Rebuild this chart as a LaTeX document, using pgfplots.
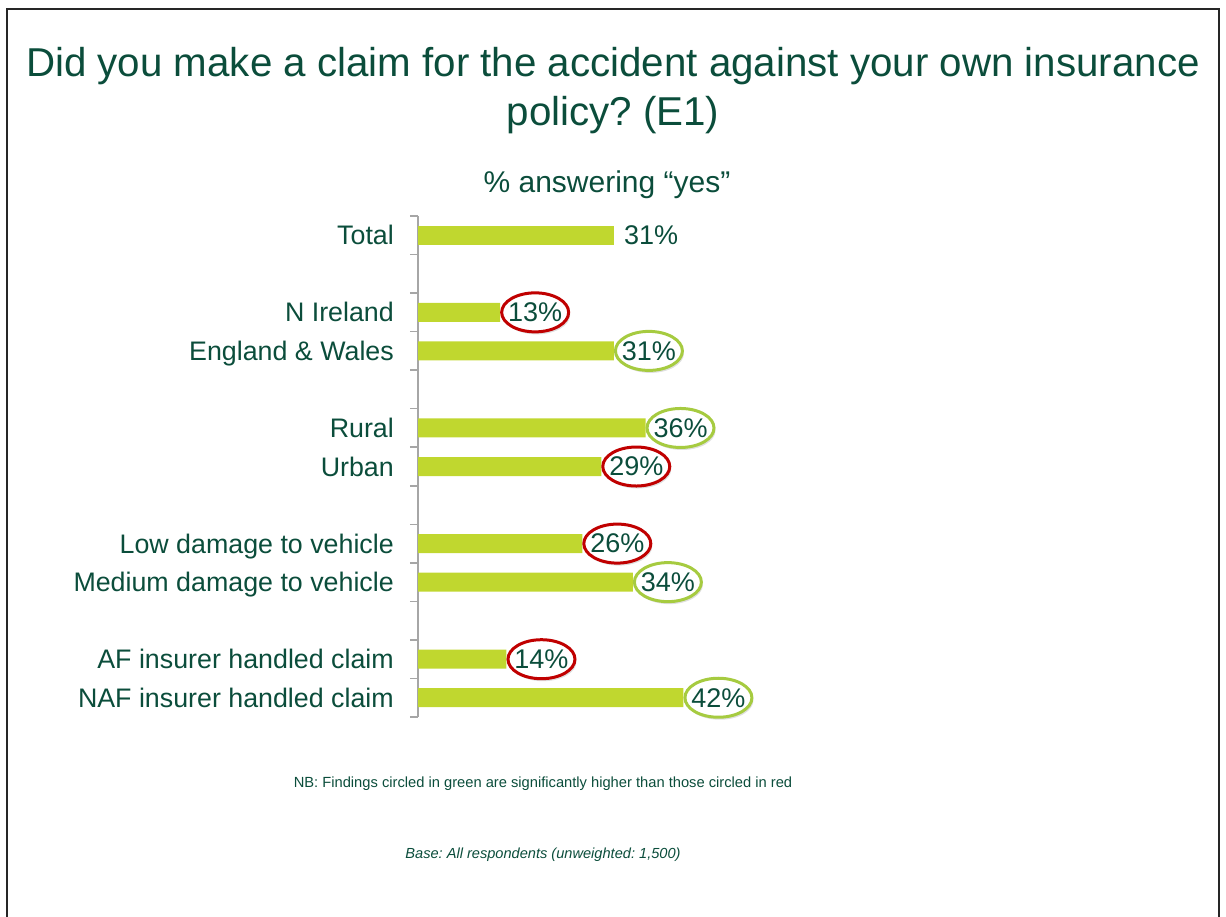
\documentclass[border=0pt]{standalone}
\usepackage{fontspec}
\setmainfont{Liberation Sans}
\usepackage{pgfplots}
\pgfplotsset{compat=1.18}
\usetikzlibrary{shapes.geometric,shadows}
\definecolor{txtgreen}{HTML}{0B4D3B}
\definecolor{barcol}{HTML}{C0D72F}
\definecolor{redc}{HTML}{C00000}
\definecolor{greenc}{HTML}{A6CB40}
\definecolor{axgray}{HTML}{A6A6A6}
\frenchspacing
\begin{document}
\begin{tikzpicture}
\useasboundingbox (0,0) rectangle (1226pt,-916pt);
\draw[line width=2pt, black!85] (7pt,-920pt) -- (7pt,-9pt) -- (1219pt,-9pt) -- (1219pt,-920pt);
\node[anchor=base, text=txtgreen, font=\fontsize{40.3}{45}\selectfont, inner sep=0pt] at (613pt,-76pt) {Did you make a claim for the accident against your own insurance};
\node[anchor=base, text=txtgreen, font=\fontsize{40.3}{45}\selectfont, inner sep=0pt] at (613pt,-125pt) {policy? (E1)};
\node[anchor=base, text=txtgreen, font=\fontsize{30}{34}\selectfont, inner sep=0pt] at (607pt,-192pt) {\% answering “yes”};
\node[anchor=base, text=txtgreen, font=\fontsize{14.7}{18}\selectfont, inner sep=0pt] at (543pt,-787pt) {NB: Findings circled in green are significantly higher than those circled in red};
\node[anchor=base, text=txtgreen, font=\fontsize{14.6}{18}\selectfont\itshape, inner sep=0pt] at (543pt,-858pt) {Base: All respondents (unweighted: 1,500)};
\begin{axis}[
  at={(418pt,-216pt)}, anchor=north west,
  scale only axis, width=316pt, height=501pt,
  xmin=0, xmax=50, ymin=-0.5, ymax=12.5, y dir=reverse,
  clip=false,
  axis x line=none, axis y line*=left,
  y axis line style={draw=axgray, line width=1.5pt},
  ytick={0,2,3,5,6,8,9,11,12},
  yticklabels={Total,N Ireland,England \& Wales,Rural,Urban,Low damage to vehicle,Medium damage to vehicle,AF insurer handled claim,NAF insurer handled claim},
  minor ytick={-0.5,0.5,...,12.5},
  major tick length=0pt, minor tick length=8pt,
  tick align=outside, ytick pos=left,
  every tick/.style={draw=axgray, line width=1.5pt},
  minor tick style={draw=axgray, line width=1.5pt},
  yticklabel style={font=\fontsize{26.8}{30}\selectfont, text=txtgreen, anchor=base east, inner sep=0pt, xshift=-24pt, yshift=-9.6pt},
  /pgf/number format/assume math mode=true,
  xbar, bar width=19pt,
  nodes near coords style={font=\fontsize{27}{30}\selectfont, text=txtgreen},
]
\addplot[fill=barcol, draw=none, bar shift=0pt,
  nodes near coords={\pgfmathprintnumber{\pgfplotspointmeta}\%},
  every node near coord/.append style={anchor=west, inner sep=0pt, xshift=10pt}]
  coordinates {(31,0)};
\addplot[fill=barcol, draw=none, bar shift=0pt,
  nodes near coords={\makebox[36pt][c]{\pgfmathprintnumber{\pgfplotspointmeta}\%}},
  every node near coord/.append style={anchor=west, shape=ellipse, draw=redc, fill=white, line width=3pt, minimum width=67pt, minimum height=39pt, inner sep=0pt, drop shadow={shadow xshift=1.5pt, shadow yshift=-2.5pt, opacity=0.25}}]
  coordinates {(13,2) (29,6) (26,8) (14,11)};
\addplot[fill=barcol, draw=none, bar shift=0pt,
  nodes near coords={\makebox[36pt][c]{\pgfmathprintnumber{\pgfplotspointmeta}\%}},
  every node near coord/.append style={anchor=west, shape=ellipse, draw=greenc, fill=white, line width=3pt, minimum width=67pt, minimum height=39pt, inner sep=0pt, drop shadow={shadow xshift=1.5pt, shadow yshift=-2.5pt, opacity=0.25}}]
  coordinates {(31,3) (36,5) (34,9) (42,12)};
\end{axis}
\end{tikzpicture}
\end{document}
